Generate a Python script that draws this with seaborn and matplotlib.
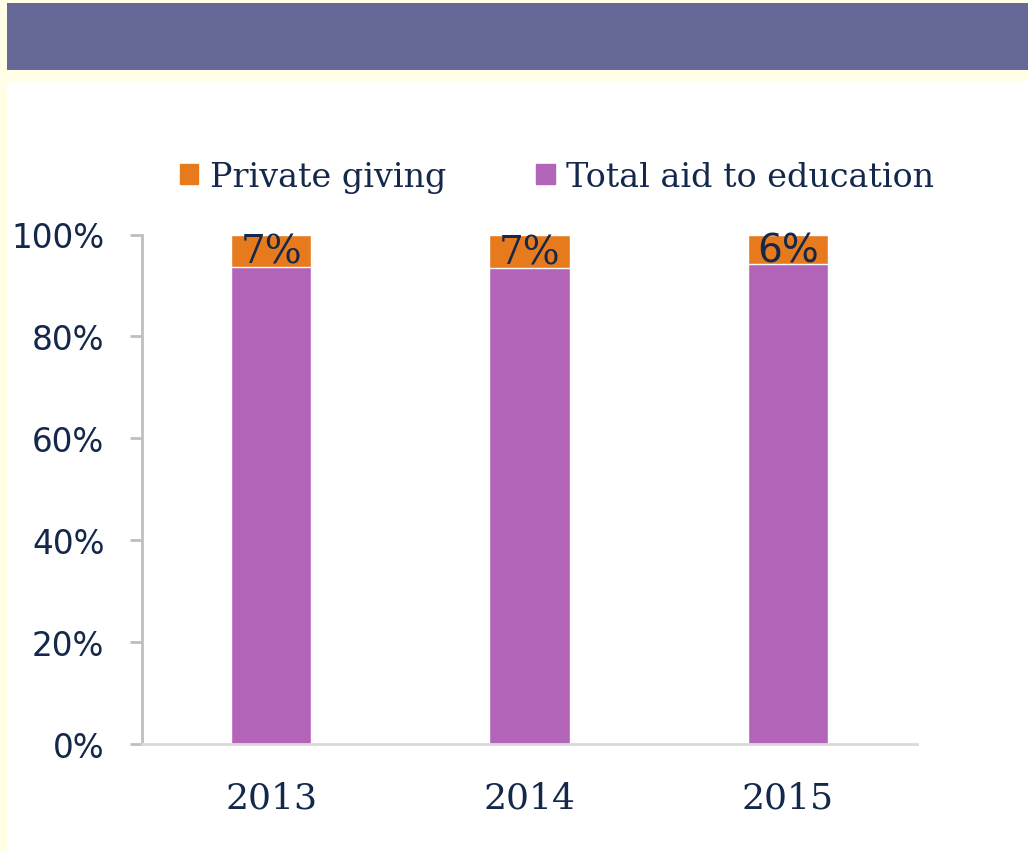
import matplotlib
matplotlib.use("Agg")
import matplotlib.pyplot as plt
import matplotlib.patches as mpatches
import seaborn as sns
import pandas as pd
import numpy as np

# données
years = ["2013", "2014", "2015"]
private_giving = [6.4, 6.6, 5.8]          # part en %
private_labels = ["7%", "7%", "6%"]
total_aid = [100 - v for v in private_giving]
y_ticks = [0, 20, 40, 60, 80, 100]

navy = "#14284B"
orange = "#E67A1D"
purple = "#B264B9"

sns.set_theme(style="white")
plt.rcParams["font.family"] = ["DejaVu Sans"]

fig = plt.figure(figsize=(10.28, 8.53), dpi=100, facecolor="#FFFFE6")

# fond : bandeau du haut et panneau blanc
bg = fig.add_axes([0, 0, 1, 1], zorder=-5)
bg.set_xlim(0, 1028)
bg.set_ylim(853, 0)
bg.axis("off")
bg.add_patch(mpatches.Rectangle((7, 4), 1021, 67, color="#666897", lw=0))
bg.add_patch(mpatches.Rectangle((7, 83), 1021, 770, color="white", lw=0))

ax = fig.add_axes([142 / 1028, 1 - 745 / 853, (917 - 142) / 1028, (745 - 235.5) / 853], zorder=2)
ax.set_facecolor("none")

df = pd.DataFrame({"Year": years, "Private": private_giving, "Total": total_aid})
df["Top"] = df["Private"] + df["Total"]

sns.barplot(data=df, x="Year", y="Top", color=orange, width=0.31, saturation=1, ax=ax)
sns.barplot(data=df, x="Year", y="Total", color=purple, width=0.31, saturation=1, ax=ax)

# étiquettes des parts privées
for i, (tot, priv, lab) in enumerate(zip(total_aid, private_giving, private_labels)):
    fam = "DejaVu Sans" if lab == "6%" else "DejaVu Serif"
    ax.text(i, tot + priv / 2 - 0.3, lab, ha="center", va="center", fontsize=28,
            color=navy, family=fam)

ax.set_ylim(0, 100)
ax.set_xlim(-0.5, 2.5)
ax.set_yticks(y_ticks)
ax.set_yticklabels([f"{t}%" for t in y_ticks], fontsize=23.5, color=navy)
ax.set_xticks(range(len(years)))
ax.set_xticklabels(years, fontsize=26, color=navy, family="DejaVu Serif")
ax.set_xlabel("")
ax.set_ylabel("")

for s in ["top", "right"]:
    ax.spines[s].set_visible(False)
ax.spines["left"].set_color("#BFBFBF")
ax.spines["left"].set_linewidth(2)
ax.spines["bottom"].set_color("#D9D9D9")
ax.spines["bottom"].set_linewidth(2)
ax.tick_params(axis="y", which="major", direction="out", length=9, width=2,
               color="#BFBFBF", left=True, pad=18)
ax.tick_params(axis="x", length=0, pad=26)

handles = [mpatches.Patch(color=orange, label="Private giving"),
           mpatches.Patch(color=purple, label="Total aid to education")]
leg = fig.legend(handles=handles, loc="center", bbox_to_anchor=(557 / 1028, 1 - 178 / 853),
                 ncol=2, frameon=False, handlelength=0.55, handleheight=0.55,
                 handletextpad=0.35, columnspacing=2.7,
                 prop={"family": "DejaVu Serif", "size": 24})
for t in leg.get_texts():
    t.set_color(navy)

fig.savefig("out.png", dpi=100, facecolor=fig.get_facecolor())
